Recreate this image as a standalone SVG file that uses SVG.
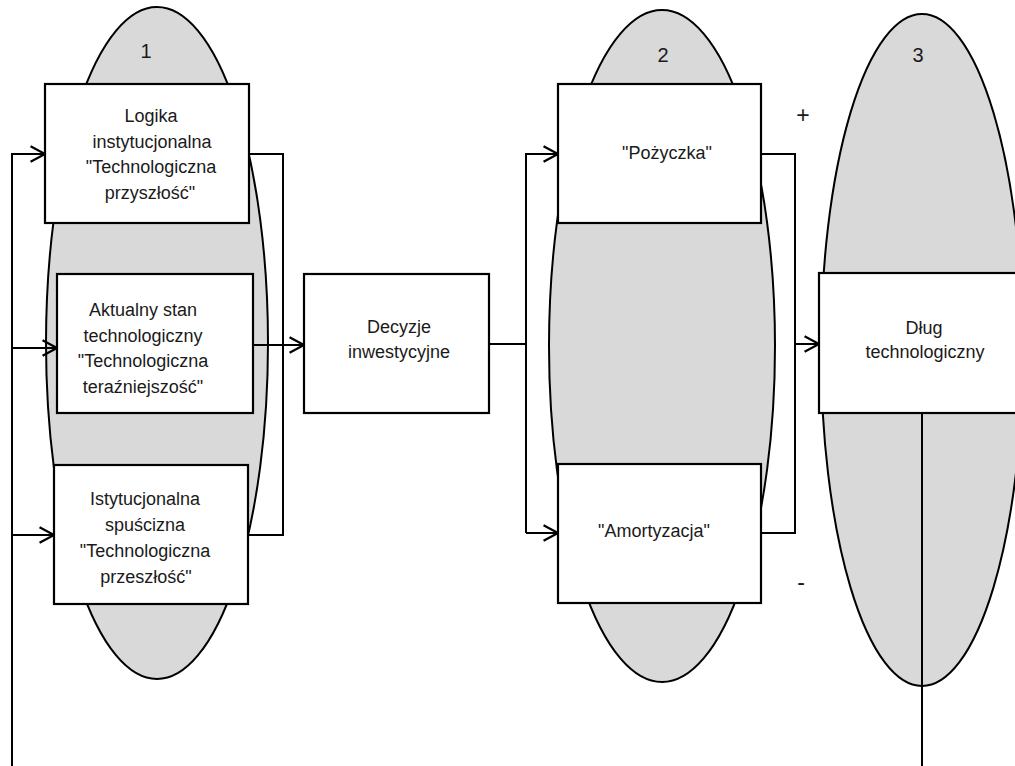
<svg xmlns="http://www.w3.org/2000/svg" width="1015" height="766" viewBox="0 0 1015 766">
<defs>
<style>
.ell{fill:#d9d9d9;stroke:#000;stroke-width:2}
.box{fill:#fff;stroke:#000;stroke-width:2.2}
.ln{fill:none;stroke:#000;stroke-width:2}
.t{font-family:"Liberation Sans",Arial,sans-serif;font-size:18px;fill:#1a1a1a;text-anchor:middle}
.n{font-family:"Liberation Sans",Arial,sans-serif;font-size:20px;fill:#1a1a1a;text-anchor:middle}
.s{font-family:"Liberation Sans",Arial,sans-serif;font-size:23px;fill:#1a1a1a;text-anchor:middle}
</style>
<marker id="arr" markerUnits="userSpaceOnUse" markerWidth="20" markerHeight="20" viewBox="-14 -9 16 18" refX="0" refY="0" orient="auto">
<path d="M-13,-7 L0,0 L-13,7" fill="none" stroke="#000" stroke-width="2"/>
</marker>
</defs>
<rect width="1015" height="766" fill="#fff"/>
<g id="ellipse1"><ellipse class="ell" cx="157" cy="343" rx="111" ry="336"/><text class="n" x="146" y="58">1</text></g>
<g id="ellipse2"><ellipse class="ell" cx="662" cy="346" rx="113" ry="336"/><text class="n" x="663" y="62">2</text></g>
<g id="ellipse3"><ellipse class="ell" cx="922" cy="350" rx="101" ry="336"/><text class="n" x="918" y="62">3</text></g>
<g id="connectors">
<path class="ln" d="M12,766 V154 H45" marker-end="url(#arr)"/>
<path class="ln" d="M12,348 H57" marker-end="url(#arr)"/>
<path class="ln" d="M12,535 H54" marker-end="url(#arr)"/>
<path class="ln" d="M249,154 H283 V535 H248"/>
<path class="ln" d="M253,345 H304" marker-end="url(#arr)"/>
<path class="ln" d="M489,344 H526"/>
<path class="ln" d="M526,533 V154 H558" marker-end="url(#arr)"/>
<path class="ln" d="M526,533 H558" marker-end="url(#arr)"/>
<path class="ln" d="M761,154 H795 V533 H761"/>
<path class="ln" d="M795,344 H819" marker-end="url(#arr)"/>
<path class="ln" d="M922,413 V766"/>
</g>
<g id="box-logika"><rect class="box" x="45" y="84" width="204" height="139"/>
<text class="t" x="151" y="122">Logika</text><text class="t" x="152" y="148">instytucjonalna</text><text class="t" x="151" y="173">"Technologiczna</text><text class="t" x="150" y="199">przyszłość"</text></g>
<g id="box-aktualny"><rect class="box" x="57" y="274" width="196" height="139"/>
<text class="t" x="143" y="316">Aktualny stan</text><text class="t" x="143" y="342">technologiczny</text><text class="t" x="143" y="367">"Technologiczna</text><text class="t" x="143" y="393">teraźniejszość"</text></g>
<g id="box-istytucjonalna"><rect class="box" x="54" y="465" width="194" height="139"/>
<text class="t" x="145" y="505">Istytucjonalna</text><text class="t" x="145" y="531">spuścizna</text><text class="t" x="145" y="557">"Technologiczna</text><text class="t" x="146" y="583">przeszłość"</text></g>
<g id="box-decyzje"><rect class="box" x="304" y="274" width="185" height="139"/>
<text class="t" x="399" y="333">Decyzje</text><text class="t" x="399" y="358">inwestycyjne</text></g>
<g id="box-pozyczka"><rect class="box" x="558" y="84" width="203" height="139"/>
<text class="t" x="667" y="159">"Pożyczka"</text></g>
<g id="box-amortyzacja"><rect class="box" x="558" y="464" width="203" height="139"/>
<text class="t" x="654" y="537">"Amortyzacja"</text></g>
<g id="box-dlug"><rect class="box" x="819" y="273" width="210" height="140"/>
<text class="t" x="924" y="334">Dług</text><text class="t" x="925" y="358">technologiczny</text></g>
<text class="s" x="803" y="123">+</text>
<text class="s" x="801" y="590">-</text>
</svg>
